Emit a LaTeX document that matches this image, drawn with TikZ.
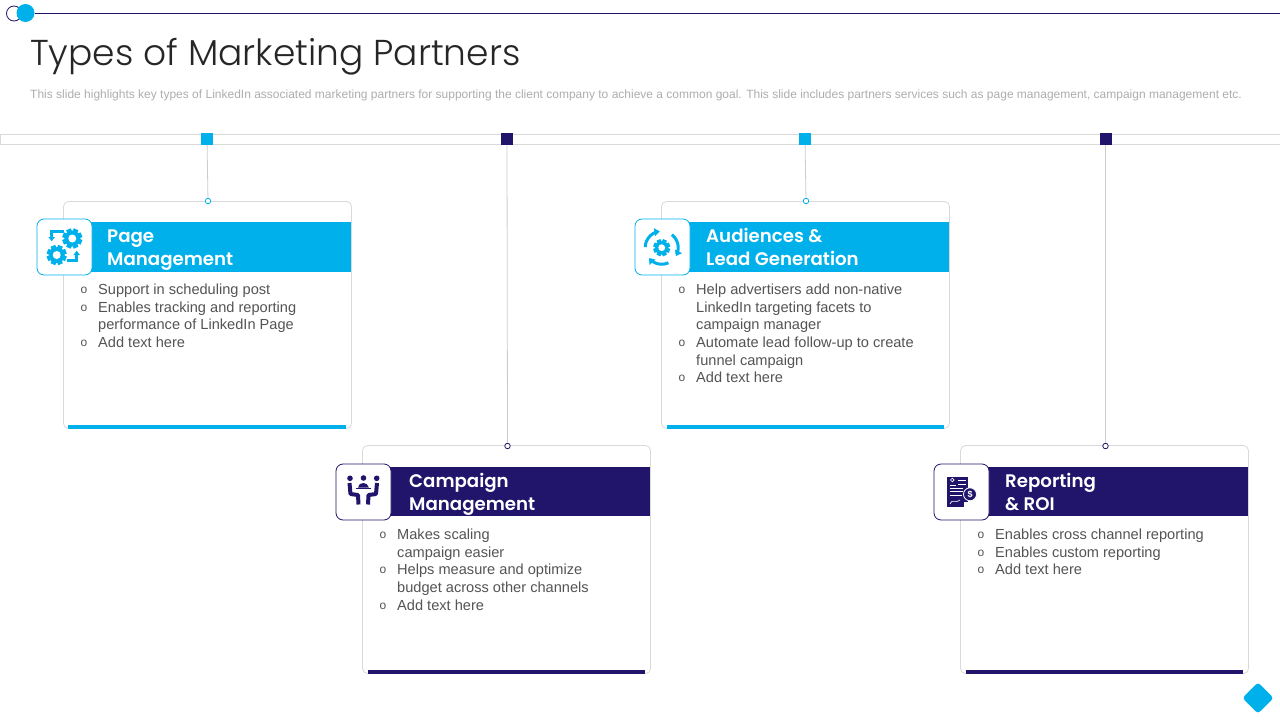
\documentclass[tikz,border=0pt]{standalone}
\usepackage{fontspec}
\setmainfont{Liberation Sans}
\newfontfamily\TitleFont{Poppins}[UprightFont=* Light]
\newfontfamily\HeadFont{Poppins}[UprightFont=* SemiBold]
\usepackage{tikz}
\usetikzlibrary{arrows.meta}
\definecolor{partnerblue}{HTML}{00B0EA}
\definecolor{partnerdark}{HTML}{21146B}
\colorlet{edgegray}{black!15}
\newcommand{\GearIcon}[4]{%
\foreach \a in {0,45,...,315} {\fill[#4,shift={(#1,#2)},rotate=\a+22.5] (-#3*.25,0) rectangle (#3*.25,#3);}
\fill[#4] (#1,#2) circle ({#3*.8});
\fill[white] (#1,#2) circle ({#3*.4});
}
\begin{document}
\begin{tikzpicture}[
x=1pt,y=-1pt,
TopBar/.style={draw=edgegray,fill=white,line width=1pt},
Card/.style={draw=edgegray,fill=white,line width=0.8pt,rounded corners=5pt},
Connector/.style={draw=black!20,line width=0.8pt},
Mark/.style={minimum size=12pt,inner sep=0pt,outer sep=0pt},
Dot/.style={draw,circle,fill=white,minimum size=5.5pt,inner sep=0pt,line width=0.8pt},
IconBox/.style={draw,fill=white,rounded corners=7pt,minimum width=55pt,minimum height=56pt,inner sep=0pt,line width=0.8pt},
BaseLine/.style={line width=4pt},
HeadLine/.style={anchor=base west,inner sep=0pt,text=white,font=\HeadFont\fontsize{18.2}{19}\selectfont},
BodyLine/.style={anchor=base west,inner sep=0pt,text=black!67,font=\fontsize{14.6}{17}\selectfont},
BulletO/.style={anchor=base,inner sep=0pt,text=black!67,font=\fontsize{12}{12}\selectfont}
]
\useasboundingbox (0,0) rectangle (1280,720);

% Top rule with the two circles
\node[draw=partnerdark,circle,minimum size=15pt,inner sep=0pt,line width=0.8pt] (ringTop) at (14,13.5) {};
\node[fill=partnerblue,circle,minimum size=18pt,inner sep=0pt] (discTop) at (25.5,13) {};
\coordinate (ruleEnd) at (1280,13);
\draw[partnerdark,line width=1pt] (discTop)--(ruleEnd);

\node[anchor=base west,inner sep=0pt,text=black!85,font=\TitleFont\fontsize{36}{36}\selectfont] (title) at (30,65) {Types of Marketing Partners};
\node[anchor=base west,inner sep=0pt,text=black!32,font=\fontsize{12}{12}\selectfont] (subtitle) at (30,98) {This slide highlights key types of LinkedIn associated marketing partners for supporting the client company to achieve a common goal. This slide includes partners services such as page management, campaign management etc.};

\draw[TopBar] (0.5,134.5) rectangle (1282,144);

% Cards
\draw[Card] (63.5,201.5) rectangle (351.5,428.5);
\draw[Card] (661.5,201.5) rectangle (949.5,428.5);
\draw[Card] (362.5,445.5) rectangle (650.5,673.5);
\draw[Card] (960.5,445.5) rectangle (1248.5,673.5);

\fill[partnerblue] (64,222) rectangle (351,272);
\fill[partnerblue] (662,222) rectangle (949,272);
\fill[partnerdark] (363,467) rectangle (650,516);
\fill[partnerdark] (961,467) rectangle (1248,516);

\draw[BaseLine,partnerblue] (68,427)--(346,427);
\draw[BaseLine,partnerblue] (666.5,427)--(944,427);
\draw[BaseLine,partnerdark] (367.5,672)--(645,672);
\draw[BaseLine,partnerdark] (965.5,672)--(1243,672);

% Marks on the bar and their connectors
\node[Mark,fill=partnerblue] (markPage) at (207,139) {};
\node[Mark,fill=partnerdark] (markCampaign) at (507,139) {};
\node[Mark,fill=partnerblue] (markAudience) at (805,139) {};
\node[Mark,fill=partnerdark] (markReport) at (1105.5,139) {};

\node[Dot,draw=partnerblue] (dotPage) at (208,201) {};
\node[Dot,draw=partnerdark] (dotCampaign) at (507.5,446) {};
\node[Dot,draw=partnerblue] (dotAudience) at (806,201) {};
\node[Dot,draw=partnerdark] (dotReport) at (1105.5,446) {};

\draw[Connector] (markPage)--(dotPage);
\draw[Connector] (markCampaign)--(dotCampaign);
\draw[Connector] (markAudience)--(dotAudience);
\draw[Connector] (markReport)--(dotReport);

% Icon boxes
\node[IconBox,draw=partnerblue] (iconPage) at (64.5,247) {};
\node[IconBox,draw=partnerblue] (iconAudience) at (662.5,247) {};
\node[IconBox,draw=partnerdark] (iconCampaign) at (363.5,492) {};
\node[IconBox,draw=partnerdark] (iconReport) at (961.5,492) {};

% Page icon
\GearIcon{72.3}{238.5}{10}{partnerblue}
\GearIcon{56.7}{255}{10}{partnerblue}
\draw[partnerblue,line width=2.6pt,-{Latex[length=4.5pt,width=7.5pt]}] (63.5,231.7)--(51.7,231.7)--(51.7,241.5);
\draw[partnerblue,line width=2.6pt,-{Latex[length=4.5pt,width=7.5pt]}] (67.3,260.7)--(76.7,260.7)--(76.7,250.5);

% Audience icon
\GearIcon{661.7}{247.7}{8.5}{partnerblue}
\draw[partnerblue,line width=3pt,-{Latex[length=5.5pt,width=9pt]}] plot[domain=178:96,samples=14] ({661.7+16.5*cos(\x)},{247.7-16.5*sin(\x)});
\draw[partnerblue,line width=3pt,-{Latex[length=5.5pt,width=9pt]}] plot[domain=52:-31,samples=14] ({661.7+16.5*cos(\x)},{247.7-16.5*sin(\x)});
\draw[partnerblue,line width=3pt,-{Latex[length=5.5pt,width=9pt]}] plot[domain=-66:-141,samples=14] ({661.7+16.5*cos(\x)},{247.7-16.5*sin(\x)});

% Campaign icon
\fill[partnerdark] (350,478.3) circle (2.8);
\fill[partnerdark] (363.5,478) circle (2.8);
\fill[partnerdark] (376.7,478.3) circle (2.8);
\draw[partnerdark,line width=4pt,line join=round] (349.5,483)--(350.5,494)--(358,495)--(358.5,504.5);
\draw[partnerdark,line width=4pt,line join=round] (377,483)--(376,494)--(368.5,495)--(368,504.5);
\draw[partnerdark,line width=1.4pt] (355.5,488.7)--(371,488.7);
\fill[partnerdark] (358,487.5) .. controls (358.5,481.5) and (368,481.5) .. (368.8,487.5) -- cycle;

% Report icon
\fill[partnerdark] (947.3,476.5) rectangle (968,506.5);
\fill[white] (963.5,501.5) rectangle (968.5,507);
\draw[white,line width=0.6pt] (950,488.3)--(963,488.3) (950,491.7)--(963,491.7) (950,495)--(962,495);
\draw[white,line width=0.6pt] (958,480.3)--(966,480.3) (958,484)--(966,484);
\draw[white,line width=0.6pt] (952.3,480) circle (1.8);
\draw[white,line width=0.6pt] (949.5,485.5)--(955.5,485.5);
\draw[white,line width=0.6pt] (950,504) .. controls (953,498) and (954,504) .. (960,500);
\node[circle,fill=partnerdark,draw=white,line width=0.8pt,minimum size=13pt,inner sep=0pt,text=white,font=\bfseries\fontsize{9}{9}\selectfont] (coinReport) at (970,494.3) {\$};

% Page text
\node[HeadLine] (headPageA) at (107,242) {Page};
\node[HeadLine] (headPageB) at (107,265) {Management};
\node[BulletO] (bulPageA) at (84,293) {o};
\node[BodyLine] (txtPageA) at (98,294) {Support in scheduling post};
\node[BulletO] (bulPageB) at (84,311) {o};
\node[BodyLine] (txtPageB) at (98,312) {Enables tracking and reporting};
\node[BodyLine] (txtPageC) at (98,329) {performance of LinkedIn Page};
\node[BulletO] (bulPageC) at (84,346) {o};
\node[BodyLine] (txtPageD) at (98,347) {Add text here};

% Audience text
\node[HeadLine] (headAudA) at (706,242) {Audiences \&};
\node[HeadLine] (headAudB) at (706,265) {Lead Generation};
\node[BulletO] (bulAudA) at (682,293) {o};
\node[BodyLine] (txtAudA) at (696,294) {Help advertisers add non-native};
\node[BodyLine] (txtAudB) at (696,312) {LinkedIn targeting facets to};
\node[BodyLine] (txtAudC) at (696,329) {campaign manager};
\node[BulletO] (bulAudB) at (682,346) {o};
\node[BodyLine] (txtAudD) at (696,347) {Automate lead follow-up to create};
\node[BodyLine] (txtAudE) at (696,365) {funnel campaign};
\node[BulletO] (bulAudC) at (682,381) {o};
\node[BodyLine] (txtAudF) at (696,382) {Add text here};

% Campaign text
\node[HeadLine] (headCamA) at (409,487) {Campaign};
\node[HeadLine] (headCamB) at (409,510) {Management};
\node[BulletO] (bulCamA) at (383,538) {o};
\node[BodyLine] (txtCamA) at (397,539) {Makes scaling};
\node[BodyLine] (txtCamB) at (397,557) {campaign easier};
\node[BulletO] (bulCamB) at (383,573) {o};
\node[BodyLine] (txtCamC) at (397,574) {Helps measure and optimize};
\node[BodyLine] (txtCamD) at (397,592) {budget across other channels};
\node[BulletO] (bulCamC) at (383,609) {o};
\node[BodyLine] (txtCamE) at (397,610) {Add text here};

% Report text
\node[HeadLine] (headRepA) at (1005,487) {Reporting};
\node[HeadLine] (headRepB) at (1005,510) {\& ROI};
\node[BulletO] (bulRepA) at (981,538) {o};
\node[BodyLine] (txtRepA) at (995,539) {Enables cross channel reporting};
\node[BulletO] (bulRepB) at (981,556) {o};
\node[BodyLine] (txtRepB) at (995,557) {Enables custom reporting};
\node[BulletO] (bulRepC) at (981,573) {o};
\node[BodyLine] (txtRepC) at (995,574) {Add text here};

% Corner diamond
\node[fill=partnerblue,rounded corners=3pt,rotate=45,minimum size=22pt,inner sep=0pt] (cornerMark) at (1258,698) {};
\end{tikzpicture}
\end{document}
